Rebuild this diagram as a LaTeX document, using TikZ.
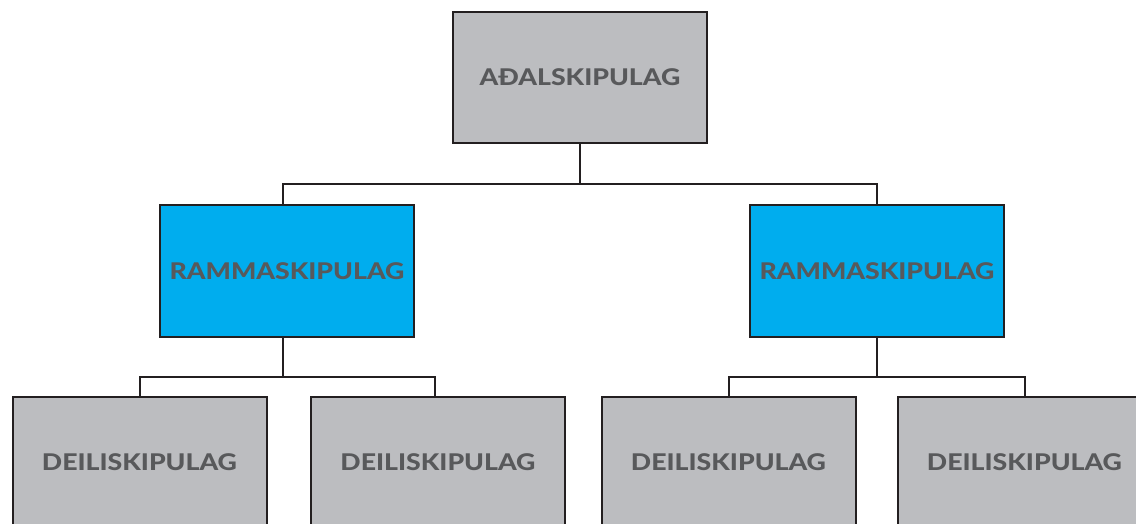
\documentclass[tikz,border=0pt]{standalone}
\usepackage{fontspec}
\usepackage{graphicx}
\setmainfont{Lato}[BoldFont={Lato Heavy}]
\definecolor{boxgray}{HTML}{BCBDC0}
\definecolor{boxblue}{HTML}{00ADEE}
\definecolor{txtgray}{HTML}{58595B}
\definecolor{edge}{HTML}{231F20}
\newcommand{\widetxt}[1]{\scalebox{1.16}[1]{#1}}
\begin{document}
\begin{tikzpicture}[x=1pt,y=1pt,
  box/.style={draw=edge, line width=2pt, minimum width=254pt, minimum height=131pt,
    inner sep=0pt, font=\fontsize{23}{27}\selectfont\bfseries, text=txtgray},
  graybox/.style={box, fill=boxgray},
  bluebox/.style={box, fill=boxblue},
  conn/.style={draw=edge, line width=2pt}]
\clip (0,0) rectangle (1136,-524);
\useasboundingbox (0,0) rectangle (1136,-524);
\node[graybox] (top) at (580,-77.5) {\widetxt{AÐALSKIPULAG}};
\node[bluebox] (r1) at (287,-271) {\widetxt{RAMMASKIPULAG}};
\node[bluebox] (r2) at (877,-271) {\widetxt{RAMMASKIPULAG}};
\node[graybox] (d1) at (139.5,-462.5) {\widetxt{DEILISKIPULAG}};
\node[graybox] (d2) at (438,-462.5) {\widetxt{DEILISKIPULAG}};
\node[graybox] (d3) at (728.5,-462.5) {\widetxt{DEILISKIPULAG}};
\node[graybox] (d4) at (1024.5,-462.5) {\widetxt{DEILISKIPULAG}};
\coordinate (busA) at (0,-184);
\coordinate (busB) at (0,-377);
\draw[conn] (top.south) -- (top.south |- busA);
\draw[conn] (top.south |- busA) -| ([xshift=-4pt]r1.north);
\draw[conn] (top.south |- busA) -| (r2.north);
\draw[conn] ([xshift=-4pt]r1.south) -- ([xshift=-4pt]r1.south |- busB);
\draw[conn] ([xshift=-4pt]r1.south |- busB) -| (d1.north);
\draw[conn] ([xshift=-4pt]r1.south |- busB) -| ([xshift=-3pt]d2.north);
\draw[conn] (r2.south) -- (r2.south |- busB);
\draw[conn] (r2.south |- busB) -| (d3.north);
\draw[conn] (r2.south |- busB) -| (d4.north);
\end{tikzpicture}
\end{document}
